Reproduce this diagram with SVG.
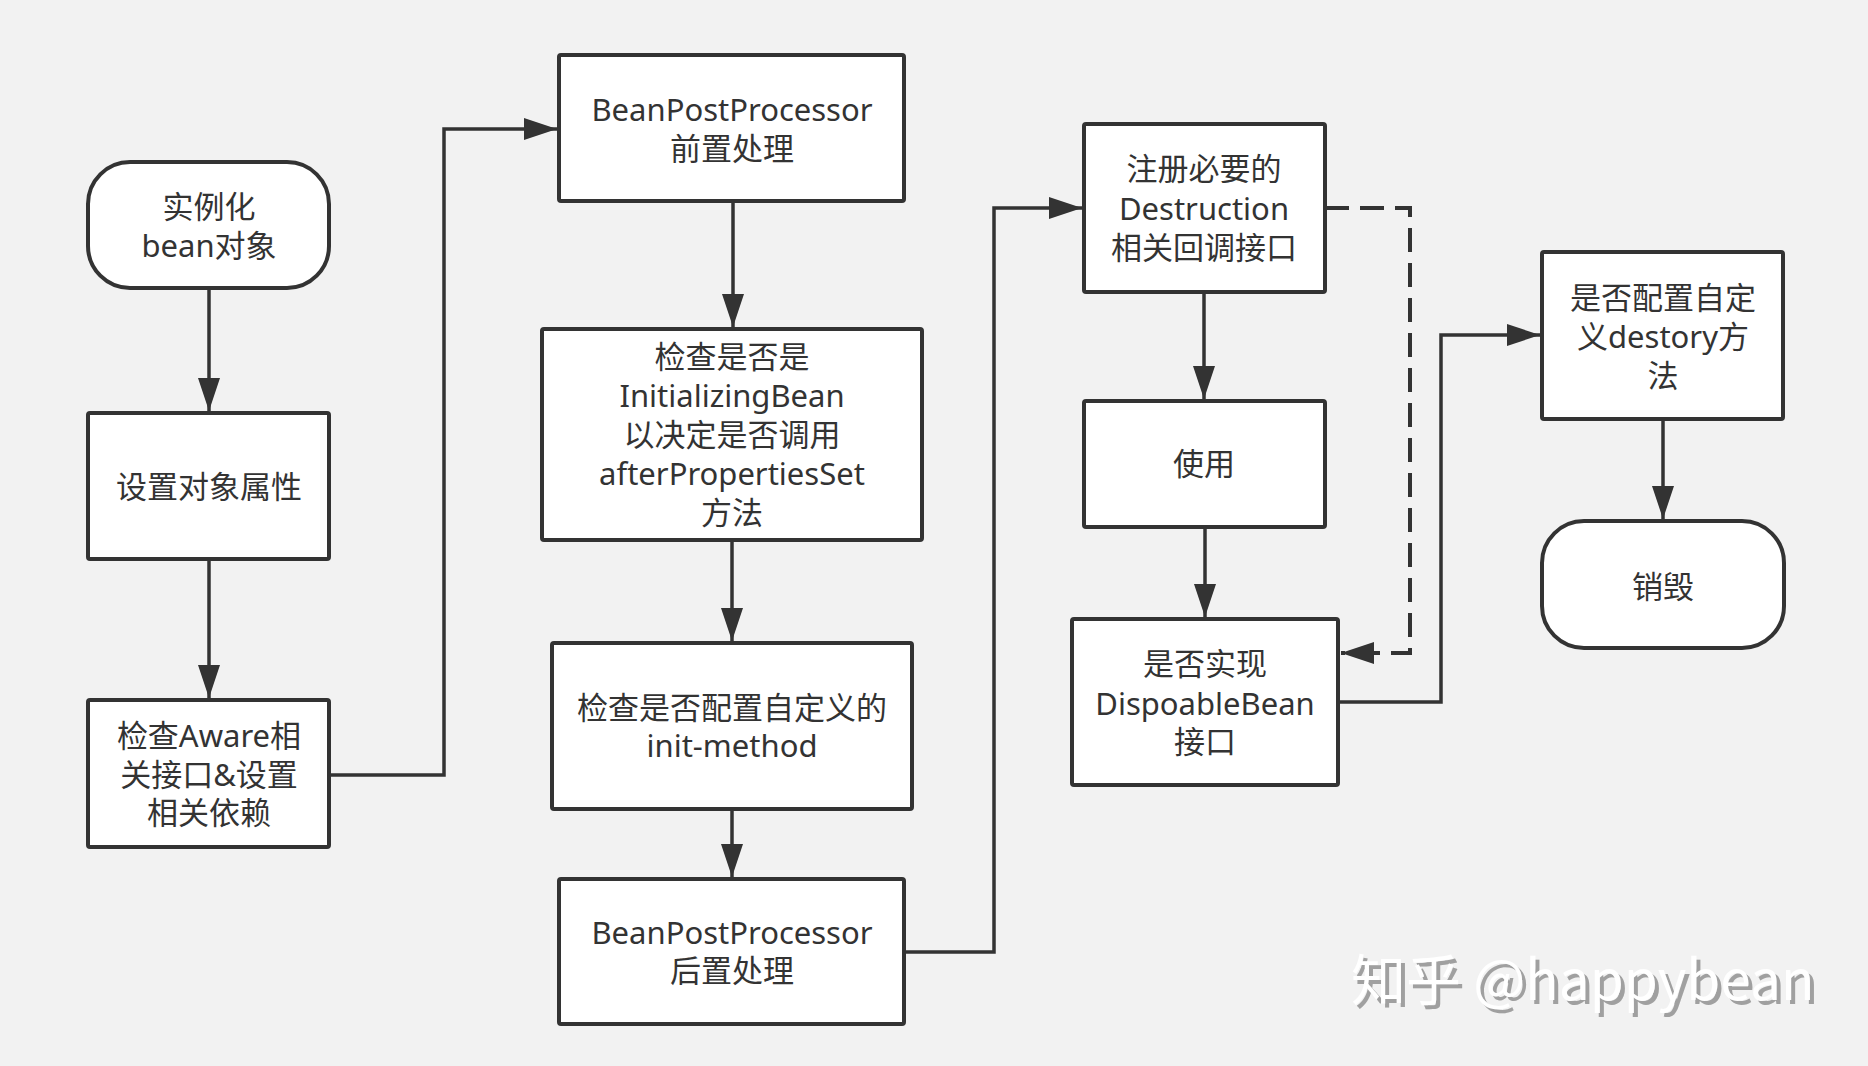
<svg xmlns="http://www.w3.org/2000/svg" width="1868" height="1066" viewBox="0 0 1868 1066">
<defs>
<style>
.box{fill:#ffffff;stroke:#333333;stroke-width:4}
.t{font-family:"Noto Sans","Noto Sans CJK SC",sans-serif;font-size:31px;fill:#333333;text-anchor:middle;dominant-baseline:central}
.c{fill:none;stroke:#333333;stroke-width:3.5}
.d{fill:none;stroke:#333333;stroke-width:4;stroke-dasharray:24 11}
.wm{font-family:"Noto Sans CJK SC","Noto Sans",sans-serif;font-size:55px;fill:#ffffff}
</style>
<filter id="shadow" x="-5%" y="-20%" width="110%" height="150%">
<feDropShadow dx="4" dy="4" stdDeviation="0.5" flood-color="#a0a0a0" flood-opacity="1"/>
</filter>
<marker id="arr" viewBox="0 0 33 22" refX="33" refY="11" markerWidth="33" markerHeight="22" markerUnits="userSpaceOnUse" orient="auto">
<path d="M0,0 L33,11 L0,22 Z" fill="#333333"/>
</marker>
</defs>
<rect x="0" y="0" width="1868" height="1066" fill="#f2f2f2"/>

<g id="connectors">
<path class="c" d="M209,288 V411" marker-end="url(#arr)"/>
<path class="c" d="M209,559 V698" marker-end="url(#arr)"/>
<path class="c" d="M329,775 H444 V129 H557" marker-end="url(#arr)"/>
<path class="c" d="M733,201 V327" marker-end="url(#arr)"/>
<path class="c" d="M732,540 V641" marker-end="url(#arr)"/>
<path class="c" d="M732,809 V877" marker-end="url(#arr)"/>
<path class="c" d="M904,952 H994 V208 H1082" marker-end="url(#arr)"/>
<path class="c" d="M1204,292 V399" marker-end="url(#arr)"/>
<path class="c" d="M1205,527 V617" marker-end="url(#arr)"/>
<path class="c" d="M1338,702 H1441 V335 H1540" marker-end="url(#arr)"/>
<path class="c" d="M1663,419 V519" marker-end="url(#arr)"/>
<path class="d" d="M1325,208 H1410 V653 H1341" marker-end="url(#arr)"/>
</g>

<g id="n_instantiate">
<rect class="box" x="88" y="162" width="241" height="126" rx="42" ry="42"/>
<text class="t" x="209" y="206">实例化</text>
<text class="t" x="209" y="245">bean对象</text>
</g>

<g id="n_setprops">
<rect class="box" x="88" y="413" width="241" height="146" rx="2"/>
<text class="t" x="209" y="486">设置对象属性</text>
</g>

<g id="n_aware">
<rect class="box" x="88" y="700" width="241" height="147" rx="2"/>
<text class="t" x="209" y="735">检查Aware相</text>
<text class="t" x="209" y="774">关接口&amp;设置</text>
<text class="t" x="209" y="812">相关依赖</text>
</g>

<g id="n_bpp_before">
<rect class="box" x="559" y="55" width="345" height="146" rx="2"/>
<text class="t" x="732" y="109">BeanPostProcessor</text>
<text class="t" x="732" y="148">前置处理</text>
</g>

<g id="n_initializing">
<rect class="box" x="542" y="329" width="380" height="211" rx="2"/>
<text class="t" x="732" y="356">检查是否是</text>
<text class="t" x="732" y="395">InitializingBean</text>
<text class="t" x="732" y="434">以决定是否调用</text>
<text class="t" x="732" y="473">afterPropertiesSet</text>
<text class="t" x="732" y="512">方法</text>
</g>

<g id="n_initmethod">
<rect class="box" x="552" y="643" width="360" height="166" rx="2"/>
<text class="t" x="732" y="707">检查是否配置自定义的</text>
<text class="t" x="732" y="745">init-method</text>
</g>

<g id="n_bpp_after">
<rect class="box" x="559" y="879" width="345" height="145" rx="2"/>
<text class="t" x="732" y="932">BeanPostProcessor</text>
<text class="t" x="732" y="970">后置处理</text>
</g>

<g id="n_register">
<rect class="box" x="1084" y="124" width="241" height="168" rx="2"/>
<text class="t" x="1204" y="168">注册必要的</text>
<text class="t" x="1204" y="208">Destruction</text>
<text class="t" x="1204" y="247">相关回调接口</text>
</g>

<g id="n_use">
<rect class="box" x="1084" y="401" width="241" height="126" rx="2"/>
<text class="t" x="1204" y="463">使用</text>
</g>

<g id="n_disposable">
<rect class="box" x="1072" y="619" width="266" height="166" rx="2"/>
<text class="t" x="1205" y="663">是否实现</text>
<text class="t" x="1205" y="703">DispoableBean</text>
<text class="t" x="1205" y="741">接口</text>
</g>

<g id="n_destroy_method">
<rect class="box" x="1542" y="252" width="241" height="167" rx="2"/>
<text class="t" x="1663" y="297">是否配置自定</text>
<text class="t" x="1663" y="336">义destory方</text>
<text class="t" x="1663" y="375">法</text>
</g>

<g id="n_destroy">
<rect class="box" x="1542" y="521" width="242" height="127" rx="42" ry="42"/>
<text class="t" x="1663" y="586">销毁</text>
</g>

<g id="watermark">
<text class="wm" x="1351" y="1000" filter="url(#shadow)">知乎 @happybean</text>
</g>
</svg>
